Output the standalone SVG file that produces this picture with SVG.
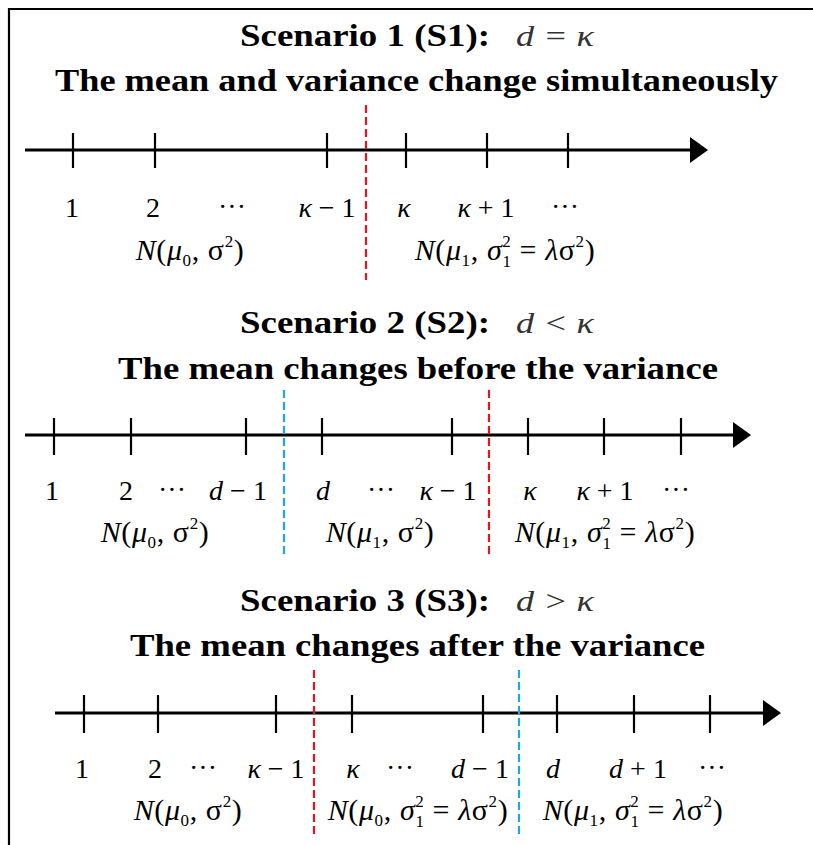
<svg xmlns="http://www.w3.org/2000/svg" width="813" height="845" viewBox="0 0 813 845">
<defs>
<style>
.title{font-family:"Liberation Serif","DejaVu Serif",serif;font-weight:bold;font-size:32px;fill:#000}
.math{font-family:"Liberation Serif","DejaVu Serif",serif;font-style:italic;font-size:30px;fill:#333}
.lbl{font-family:"Liberation Serif","DejaVu Serif",serif;font-size:28px;fill:#000;text-anchor:middle}
.nl{font-size:30px;letter-spacing:0.6px}
.it{font-style:italic}
.sm{font-size:17px}
.axis{stroke:#000;stroke-width:3;fill:none}
.tick{stroke:#000;stroke-width:2.2}
.red{stroke:#e8141c;stroke-width:2.2;stroke-dasharray:8 4}
.blue{stroke:#1aa8ea;stroke-width:2.2;stroke-dasharray:8 4}
</style>
<marker id="arr" viewBox="0 0 18 26" refX="0" refY="13" markerWidth="18" markerHeight="26" markerUnits="userSpaceOnUse" orient="auto">
<path d="M0,0 L18,13 L0,26 Z" fill="#000"/>
</marker>
</defs>
<rect width="813" height="845" fill="#fff"/>
<g id="frame"><path d="M9,845 V9 H813" stroke="#000" stroke-width="2.2" fill="none"/></g>

<g id="titles">
<text class="title" x="240" y="46" textLength="250" lengthAdjust="spacingAndGlyphs">Scenario 1 (S1):</text>
<text class="math" x="516" y="46" textLength="78" lengthAdjust="spacingAndGlyphs">d = κ</text>
<text class="title" x="55" y="91" textLength="723" lengthAdjust="spacingAndGlyphs">The mean and variance change simultaneously</text>
<text class="title" x="240" y="333" textLength="250" lengthAdjust="spacingAndGlyphs">Scenario 2 (S2):</text>
<text class="math" x="516" y="333" textLength="78" lengthAdjust="spacingAndGlyphs">d &lt; κ</text>
<text class="title" x="118" y="379" textLength="600" lengthAdjust="spacingAndGlyphs">The mean changes before the variance</text>
<text class="title" x="240" y="611" textLength="250" lengthAdjust="spacingAndGlyphs">Scenario 3 (S3):</text>
<text class="math" x="516" y="611" textLength="78" lengthAdjust="spacingAndGlyphs">d &gt; κ</text>
<text class="title" x="130" y="656" textLength="575" lengthAdjust="spacingAndGlyphs">The mean changes after the variance</text>
</g>

<g id="connectors">
<line class="axis" x1="25" y1="150" x2="690" y2="150" marker-end="url(#arr)"/>
<line class="tick" x1="73" y1="133" x2="73" y2="168"/>
<line class="tick" x1="155" y1="133" x2="155" y2="168"/>
<line class="tick" x1="327" y1="133" x2="327" y2="168"/>
<line class="tick" x1="406" y1="133" x2="406" y2="168"/>
<line class="tick" x1="487" y1="133" x2="487" y2="168"/>
<line class="tick" x1="568" y1="133" x2="568" y2="168"/>
<line class="red" x1="366" y1="105" x2="366" y2="280"/>
<line class="axis" x1="25" y1="435" x2="733" y2="435" marker-end="url(#arr)"/>
<line class="tick" x1="54" y1="418" x2="54" y2="455"/>
<line class="tick" x1="131" y1="418" x2="131" y2="455"/>
<line class="tick" x1="246" y1="418" x2="246" y2="455"/>
<line class="tick" x1="322" y1="418" x2="322" y2="455"/>
<line class="tick" x1="452" y1="418" x2="452" y2="455"/>
<line class="tick" x1="528" y1="418" x2="528" y2="455"/>
<line class="tick" x1="604" y1="418" x2="604" y2="455"/>
<line class="tick" x1="681" y1="418" x2="681" y2="455"/>
<line class="blue" x1="284" y1="390" x2="284" y2="558"/>
<line class="red" x1="489" y1="390" x2="489" y2="558"/>
<line class="axis" x1="55" y1="713" x2="763" y2="713" marker-end="url(#arr)"/>
<line class="tick" x1="84" y1="695" x2="84" y2="733"/>
<line class="tick" x1="158" y1="695" x2="158" y2="733"/>
<line class="tick" x1="276" y1="695" x2="276" y2="733"/>
<line class="tick" x1="352" y1="695" x2="352" y2="733"/>
<line class="tick" x1="483" y1="695" x2="483" y2="733"/>
<line class="tick" x1="557" y1="695" x2="557" y2="733"/>
<line class="tick" x1="634" y1="695" x2="634" y2="733"/>
<line class="tick" x1="710" y1="695" x2="710" y2="733"/>
<line class="red" x1="314" y1="670" x2="314" y2="835"/>
<line class="blue" x1="519" y1="670" x2="519" y2="835"/>
</g>

<g id="labels-s1">
<text class="lbl" x="72" y="217">1</text>
<text class="lbl" x="153" y="217">2</text>
<text class="lbl" x="232" y="216">···</text>
<text class="lbl" x="327" y="217"><tspan class="it">κ</tspan> − 1</text>
<text class="lbl" x="404" y="217"><tspan class="it">κ</tspan></text>
<text class="lbl" x="486" y="217"><tspan class="it">κ</tspan> + 1</text>
<text class="lbl" x="565" y="216">···</text>
<text class="lbl nl" x="190" y="260"><tspan class="it">N</tspan>(<tspan class="it">μ</tspan><tspan class="sm" dy="6">0</tspan><tspan dy="-6">, σ</tspan><tspan class="sm" dy="-13">2</tspan><tspan dy="13">)</tspan></text>
<text class="lbl nl" x="505" y="260"><tspan class="it">N</tspan>(<tspan class="it">μ</tspan><tspan class="sm" dy="6">1</tspan><tspan dy="-6">, </tspan><tspan class="it">σ</tspan><tspan class="sm" dy="-13">2</tspan><tspan class="sm" dx="-9" dy="20">1</tspan><tspan dy="-7"> = </tspan><tspan class="it">λ</tspan>σ<tspan class="sm" dy="-13">2</tspan><tspan dy="13">)</tspan></text>
</g>

<g id="labels-s2">
<text class="lbl" x="52" y="500">1</text>
<text class="lbl" x="126" y="500">2</text>
<text class="lbl" x="172" y="499">···</text>
<text class="lbl" x="238" y="500"><tspan class="it">d</tspan> − 1</text>
<text class="lbl" x="323" y="500"><tspan class="it">d</tspan></text>
<text class="lbl" x="381" y="499">···</text>
<text class="lbl" x="448" y="500"><tspan class="it">κ</tspan> − 1</text>
<text class="lbl" x="530" y="500"><tspan class="it">κ</tspan></text>
<text class="lbl" x="605" y="500"><tspan class="it">κ</tspan> + 1</text>
<text class="lbl" x="676" y="499">···</text>
<text class="lbl nl" x="155" y="542"><tspan class="it">N</tspan>(<tspan class="it">μ</tspan><tspan class="sm" dy="6">0</tspan><tspan dy="-6">, σ</tspan><tspan class="sm" dy="-13">2</tspan><tspan dy="13">)</tspan></text>
<text class="lbl nl" x="380" y="542"><tspan class="it">N</tspan>(<tspan class="it">μ</tspan><tspan class="sm" dy="6">1</tspan><tspan dy="-6">, σ</tspan><tspan class="sm" dy="-13">2</tspan><tspan dy="13">)</tspan></text>
<text class="lbl nl" x="605" y="542"><tspan class="it">N</tspan>(<tspan class="it">μ</tspan><tspan class="sm" dy="6">1</tspan><tspan dy="-6">, </tspan><tspan class="it">σ</tspan><tspan class="sm" dy="-13">2</tspan><tspan class="sm" dx="-9" dy="20">1</tspan><tspan dy="-7"> = </tspan><tspan class="it">λ</tspan>σ<tspan class="sm" dy="-13">2</tspan><tspan dy="13">)</tspan></text>
</g>

<g id="labels-s3">
<text class="lbl" x="82" y="778">1</text>
<text class="lbl" x="155" y="778">2</text>
<text class="lbl" x="203" y="777">···</text>
<text class="lbl" x="276" y="778"><tspan class="it">κ</tspan> − 1</text>
<text class="lbl" x="353" y="778"><tspan class="it">κ</tspan></text>
<text class="lbl" x="400" y="777">···</text>
<text class="lbl" x="480" y="778"><tspan class="it">d</tspan> − 1</text>
<text class="lbl" x="553" y="778"><tspan class="it">d</tspan></text>
<text class="lbl" x="638" y="778"><tspan class="it">d</tspan> + 1</text>
<text class="lbl" x="712" y="777">···</text>
<text class="lbl nl" x="188" y="820"><tspan class="it">N</tspan>(<tspan class="it">μ</tspan><tspan class="sm" dy="6">0</tspan><tspan dy="-6">, σ</tspan><tspan class="sm" dy="-13">2</tspan><tspan dy="13">)</tspan></text>
<text class="lbl nl" x="418" y="820"><tspan class="it">N</tspan>(<tspan class="it">μ</tspan><tspan class="sm" dy="6">0</tspan><tspan dy="-6">, </tspan><tspan class="it">σ</tspan><tspan class="sm" dy="-13">2</tspan><tspan class="sm" dx="-9" dy="20">1</tspan><tspan dy="-7"> = </tspan><tspan class="it">λ</tspan>σ<tspan class="sm" dy="-13">2</tspan><tspan dy="13">)</tspan></text>
<text class="lbl nl" x="633" y="820"><tspan class="it">N</tspan>(<tspan class="it">μ</tspan><tspan class="sm" dy="6">1</tspan><tspan dy="-6">, </tspan><tspan class="it">σ</tspan><tspan class="sm" dy="-13">2</tspan><tspan class="sm" dx="-9" dy="20">1</tspan><tspan dy="-7"> = </tspan><tspan class="it">λ</tspan>σ<tspan class="sm" dy="-13">2</tspan><tspan dy="13">)</tspan></text>
</g>
</svg>
